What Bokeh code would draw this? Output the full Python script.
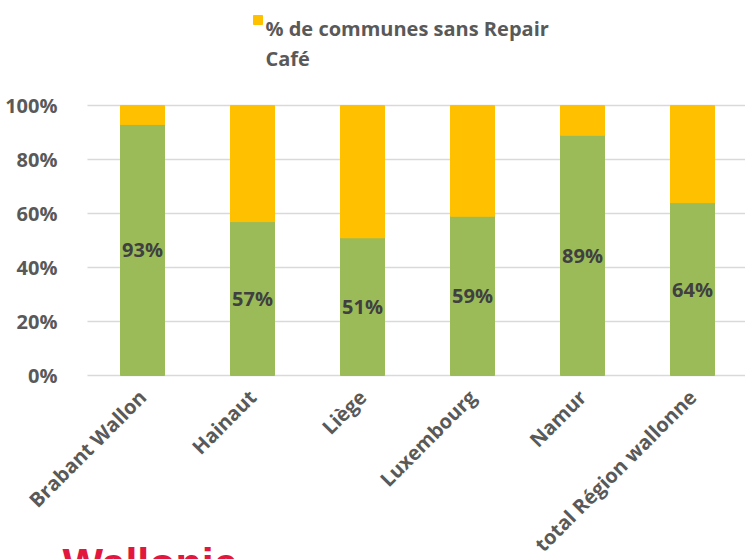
import math
from bokeh.plotting import figure
from bokeh.models import Range1d, ColumnDataSource, Label, FixedTicker, NumeralTickFormatter
from bokeh.core.properties import value
from bokeh.embed import file_html
from bokeh.resources import INLINE

categories = ["Brabant Wallon", "Hainaut", "Liège", "Luxembourg", "Namur", "total Région wallonne"]
avec = [0.93, 0.57, 0.51, 0.59, 0.89, 0.64]
sans = [round(1 - v, 2) for v in avec]
labels = ["93%", "57%", "51%", "59%", "89%", "64%"]
y_ticks = [0, 0.2, 0.4, 0.6, 0.8, 1.0]
legend_lines = ["% de communes sans Repair", "Café"]
logo_text = "Wallonie"

GREEN = "#9BBB59"
ORANGE = "#FFC000"
GRAY = "#595959"
FONT = "Open Sans"
FS = "20px"

W, H = 745, 559
X0, Y0, PX_X, PX_Y = 87, 375, 110, 270   # frame geometry (pixels)

xs = [i + 0.5 for i in range(len(categories))]
src = ColumnDataSource(dict(
    x=xs, avec=avec, sans=sans, top=[a + s for a, s in zip(avec, sans)],
    mid=[a / 2 for a in avec], lab=labels,
))

p = figure(width=W, height=H, output_backend="svg", toolbar_location=None,
           x_range=Range1d(-X0 / PX_X, (W - X0) / PX_X),
           y_range=Range1d(-(H - Y0) / PX_Y, Y0 / PX_Y),
           min_border_left=0, min_border_right=0, min_border_top=0, min_border_bottom=0)
p.outline_line_color = None
p.background_fill_color = "white"
p.border_fill_color = "white"

p.xgrid.grid_line_color = None
p.ygrid.ticker = FixedTicker(ticks=y_ticks)
p.ygrid.grid_line_color = "#D9D9D9"
p.ygrid.grid_line_width = 1.3
p.ygrid.cross_bounds = (0, (W - X0) / PX_X)

p.vbar(x="x", bottom=0, top="avec", width=0.4, color=GREEN, source=src)
p.vbar(x="x", bottom="avec", top="top", width=0.4, color=ORANGE, source=src)

p.text(x="x", y="mid", text="lab", source=src, text_align="center", text_baseline="middle",
       text_font=value(FONT), text_font_style="bold", text_font_size=FS, text_color="#404040")

# axes placed at fixed data locations inside the full-canvas frame
p.xaxis.fixed_location = 0
p.xaxis.ticker = FixedTicker(ticks=xs)
p.xaxis.major_label_overrides = {x: c for x, c in zip(xs, categories)}
p.xaxis.major_label_orientation = math.pi / 4
p.xaxis.major_tick_line_color = None
p.xaxis.minor_tick_line_color = None
p.xaxis.axis_line_color = None
p.xaxis.major_label_text_font = FONT
p.xaxis.major_label_text_font_style = "bold"
p.xaxis.major_label_text_font_size = FS
p.xaxis.major_label_text_color = GRAY
p.xaxis.major_label_standoff = 12

p.yaxis.fixed_location = 0
p.yaxis.ticker = FixedTicker(ticks=y_ticks)
p.yaxis.formatter = NumeralTickFormatter(format="0%")
p.yaxis.axis_line_color = None
p.yaxis.major_tick_line_color = None
p.yaxis.minor_tick_line_color = None
p.yaxis.major_label_text_font = FONT
p.yaxis.major_label_text_font_style = "bold"
p.yaxis.major_label_text_font_size = FS
p.yaxis.major_label_text_color = GRAY
p.yaxis.major_label_standoff = 24

# legend (manual)
p.rect(x=[(257.5 - X0) / PX_X], y=[(Y0 - 19.5) / PX_Y], width=9 / PX_X, height=9 / PX_Y, color=ORANGE)
for line, base_px in zip(legend_lines, [28, 58]):
    p.add_layout(Label(x=(265 - X0) / PX_X, y=(Y0 - base_px) / PX_Y, text=line, text_font=FONT,
                       text_font_style="bold", text_font_size=FS, text_color=GRAY,
                       text_baseline="alphabetic", text_align="left"))

# partially visible logo text at the bottom
p.add_layout(Label(x=(62 - X0) / PX_X, y=(Y0 - 538) / PX_Y, text=logo_text, text_font="Liberation Sans",
                   text_font_style="bold", text_font_size="43px", text_color="#E2173E",
                   text_baseline="top", text_align="left"))

open("out.html", "w").write(file_html(p, INLINE))
